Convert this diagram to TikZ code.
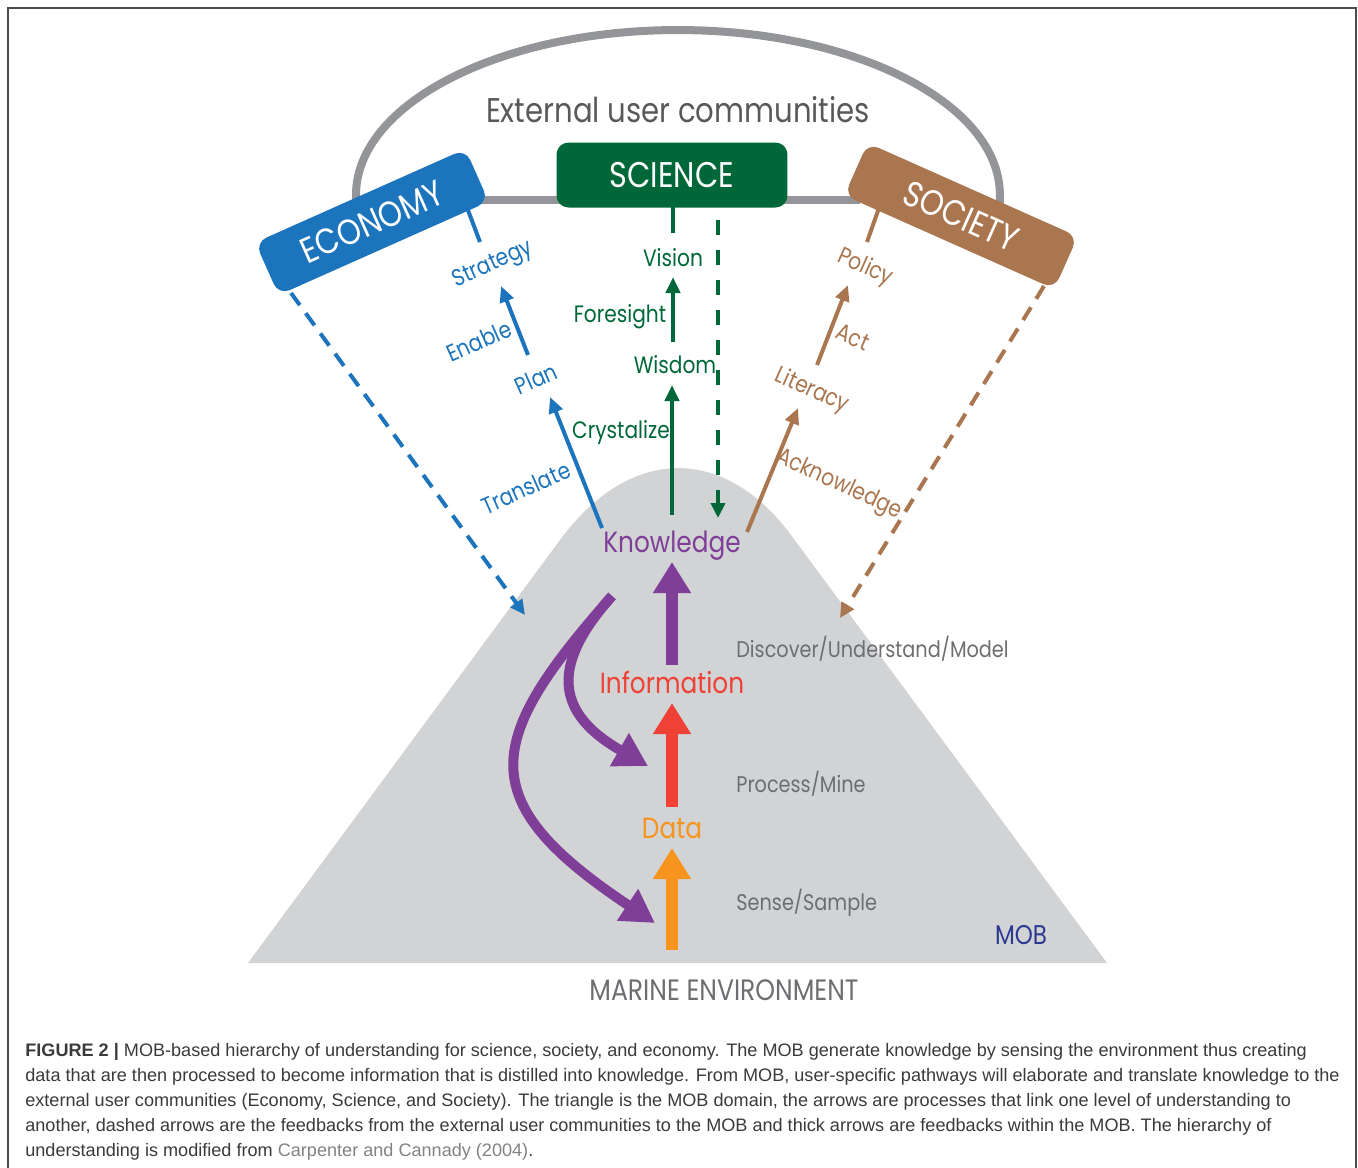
\documentclass[tikz,border=0pt]{standalone}
\usepackage{fontspec}
\setmainfont{Liberation Sans}
\newfontfamily\qs[FakeStretch=0.85]{Poppins}
\usetikzlibrary{arrows.meta}
\definecolor{ecoblue}{HTML}{1C75BC}
\definecolor{scigreen}{HTML}{006838}
\definecolor{socbrown}{HTML}{AA7650}
\definecolor{kpurple}{HTML}{7F3F98}
\definecolor{ired}{HTML}{EF4136}
\definecolor{dorange}{HTML}{F7941D}
\definecolor{mobgray}{HTML}{D1D3D4}
\definecolor{arcgray}{HTML}{939598}
\definecolor{labgray}{HTML}{6D6E71}
\definecolor{extgray}{HTML}{58595B}
\definecolor{mobblue}{HTML}{2B3990}
\definecolor{captext}{HTML}{3A3A3A}
\definecolor{citegray}{HTML}{808285}
\begin{document}
\begin{tikzpicture}[x=0.02cm,y=0.02cm,
  lab/.style={font=\qs\fontsize{13.5pt}{15pt}\selectfont, inner sep=0pt},
  biglab/.style={font=\qs\fontsize{16.6pt}{19pt}\selectfont, inner sep=0pt},
  sidelab/.style={font=\qs\fontsize{12.9pt}{15pt}\selectfont, inner sep=0pt, text=labgray, anchor=west},
  commbox/.style={rounded corners=0.24cm, text=white, font=\qs\fontsize{20.3pt}{22pt}\selectfont, inner sep=0pt},
  fline/.style={line width=0.08cm},
  farrow/.style={fline, -{Triangle[width=0.28cm,length=0.32cm]}},
  feed/.style={line width=0.08cm, dash pattern=on 0.3cm off 0.2cm, -{Triangle[width=0.28cm,length=0.3cm]}},
  bigarrow/.style={line width=0.24cm, -{Triangle[width=0.72cm,length=0.62cm]}},
  curvearrow/.style={line width=0.2cm, -{Triangle[width=0.72cm,length=0.66cm]}},
  capline/.style={anchor=base west, inner sep=0pt, text=captext, font=\fontsize{10.3pt}{12pt}\selectfont}
]
\useasboundingbox (0,0) rectangle (1358,-1167);
% frame
\draw[black!70, line width=0.04cm] (8,-1180) -- (8,-8) -- (1356,-8) -- (1356,-1180);

% external user communities arc
\draw[arcgray, line width=0.16cm] (356,-215) -- (356,-195) arc[start angle=180,end angle=0,x radius=6.44cm,y radius=3.3cm] -- (1000,-215);
\draw[arcgray, line width=0.16cm] (470,-200) -- (860,-200);
\node[font=\qs\fontsize{19.5pt}{22pt}\selectfont, text=extgray, inner sep=0pt] (ext) at (678,-110) {External user communities};

% MOB mountain
\fill[mobgray] (248,-963) -- (560,-540) .. controls (630,-445) and (724,-445) .. (791,-535) -- (1107,-963) -- cycle;

% coordinates for connectors
\coordinate (ecoIn) at (466,-205);
\coordinate (stratLow) at (480,-242);
\coordinate (enableLow) at (528,-355);
\coordinate (stratTip) at (501,-286);
\coordinate (transLow) at (602,-528);
\coordinate (planTip) at (550,-397);
\coordinate (sciIn) at (673,-200);
\coordinate (visLow) at (673,-233);
\coordinate (foreLow) at (673,-342);
\coordinate (visTip) at (673,-277);
\coordinate (crysLow) at (672,-515);
\coordinate (wisTip) at (672,-385);
\coordinate (sciDash) at (718,-220);
\coordinate (knowTip) at (718,-518);
\coordinate (socIn) at (880,-205);
\coordinate (polLow) at (867,-242);
\coordinate (actLow) at (817,-365);
\coordinate (polTip) at (848,-285);
\coordinate (ackLow) at (747,-532);
\coordinate (litTip) at (798,-408);
\coordinate (ecoCorner) at (291,-293);
\coordinate (ecoFeed) at (525,-615);
\coordinate (socCorner) at (1044,-286);
\coordinate (socFeed) at (840,-618);

% connectors (drawn under the boxes)
\draw[fline, ecoblue] (ecoIn) -- (stratLow);
\draw[farrow, ecoblue] (enableLow) -- (stratTip);
\draw[farrow, ecoblue] (transLow) -- (planTip);
\draw[fline, scigreen] (sciIn) -- (visLow);
\draw[farrow, scigreen] (foreLow) -- (visTip);
\draw[farrow, scigreen] (crysLow) -- (wisTip);
\draw[feed, scigreen, dash pattern=on 0.3cm off 0.3cm] (sciDash) -- (knowTip);
\draw[fline, socbrown] (socIn) -- (polLow);
\draw[farrow, socbrown] (actLow) -- (polTip);
\draw[farrow, socbrown] (ackLow) -- (litTip);
\draw[feed, ecoblue] (ecoCorner) -- (ecoFeed);
\draw[feed, socbrown] (socCorner) -- (socFeed);

% community boxes
\node[commbox, fill=scigreen, minimum width=4.62cm, minimum height=1.3cm] (sci) at (672,-175) {SCIENCE};
\node[commbox, fill=ecoblue, rotate=24, minimum width=4.6cm, minimum height=1.15cm] (eco) at (372,-222) {ECONOMY};
\node[commbox, fill=socbrown, rotate=-24, minimum width=4.6cm, minimum height=1.15cm] (soc) at (961,-216) {SOCIETY};

% economy pathway labels
\node[lab, text=ecoblue, rotate=24] (strategy) at (493,-265) {Strategy};
\node[lab, text=ecoblue, rotate=24] (enable) at (479,-341) {Enable};
\node[lab, text=ecoblue, rotate=24] (plan) at (536,-379) {Plan};
\node[lab, text=ecoblue, rotate=24] (translate) at (526,-488) {Translate};
% science pathway labels
\node[lab, text=scigreen] (vision) at (673,-258) {Vision};
\node[lab, text=scigreen] (foresight) at (620,-317) {Foresight};
\node[lab, text=scigreen] (wisdom) at (675,-365) {Wisdom};
\node[lab, text=scigreen] (crystalize) at (621,-433) {Crystalize};
% society pathway labels
\node[lab, text=socbrown, rotate=-24] (policy) at (865,-268) {Policy};
\node[lab, text=socbrown, rotate=-24] (act) at (853,-337) {Act};
\node[lab, text=socbrown, rotate=-24] (literacy) at (812,-391) {Literacy};
\node[lab, text=socbrown, rotate=-25] (ack) at (839,-485) {Acknowledge};

% hierarchy
\node[biglab, text=kpurple] (know) at (672,-546) {Knowledge};
\node[biglab, text=ired] (info) at (672,-682) {Information};
\node[biglab, text=dorange] (data) at (672,-828) {Data};
\coordinate (env) at (672,-950);
\coordinate (dataTip) at (672,-848);
\coordinate (dataTop) at (672,-807);
\coordinate (infoTip) at (672,-703);
\coordinate (infoTop) at (672,-665);
\coordinate (knowBase) at (672,-562);
\draw[bigarrow, dorange] (env) -- (dataTip);
\draw[bigarrow, ired] (dataTop) -- (infoTip);
\draw[bigarrow, kpurple] (infoTop) -- (knowBase);

% feedback curves within the MOB
\coordinate (fbStart) at (612,-596);
\coordinate (fbInfo) at (648,-766);
\coordinate (fbData) at (655,-923);
\draw[curvearrow, kpurple] (fbStart) .. controls (555,-660) and (550,-710) .. (fbInfo);
\draw[curvearrow, kpurple] (fbStart) .. controls (485,-740) and (470,-800) .. (fbData);

% side labels
\node[sidelab] (dum) at (736,-649) {Discover/Understand/Model};
\node[sidelab] (pm) at (736,-784) {Process/Mine};
\node[sidelab] (ss) at (736,-903) {Sense/Sample};
\node[font=\qs\fontsize{15.4pt}{17pt}\selectfont, text=mobblue, inner sep=0pt] (mob) at (1021,-935) {MOB};
\node[font=\qs\fontsize{16.8pt}{18pt}\selectfont, text=labgray, inner sep=0pt] (marine) at (724,-990) {MARINE ENVIRONMENT};

% caption
\node[capline] (c1) at (25,-1056) {\textbf{FIGURE 2 |} MOB-based hierarchy of understanding for science, society, and economy. The MOB generate knowledge by sensing the environment thus creating};
\node[capline] (c2) at (25,-1081) {data that are then processed to become information that is distilled into knowledge. From MOB, user-specific pathways will elaborate and translate knowledge to the};
\node[capline] (c3) at (25,-1106) {external user communities (Economy, Science, and Society). The triangle is the MOB domain, the arrows are processes that link one level of understanding to};
\node[capline] (c4) at (25,-1131) {another, dashed arrows are the feedbacks from the external user communities to the MOB and thick arrows are feedbacks within the MOB. The hierarchy of};
\node[capline] (c5) at (25,-1156) {understanding is modified from \textcolor{citegray}{Carpenter and Cannady (2004)}.};
\end{tikzpicture}
\end{document}
